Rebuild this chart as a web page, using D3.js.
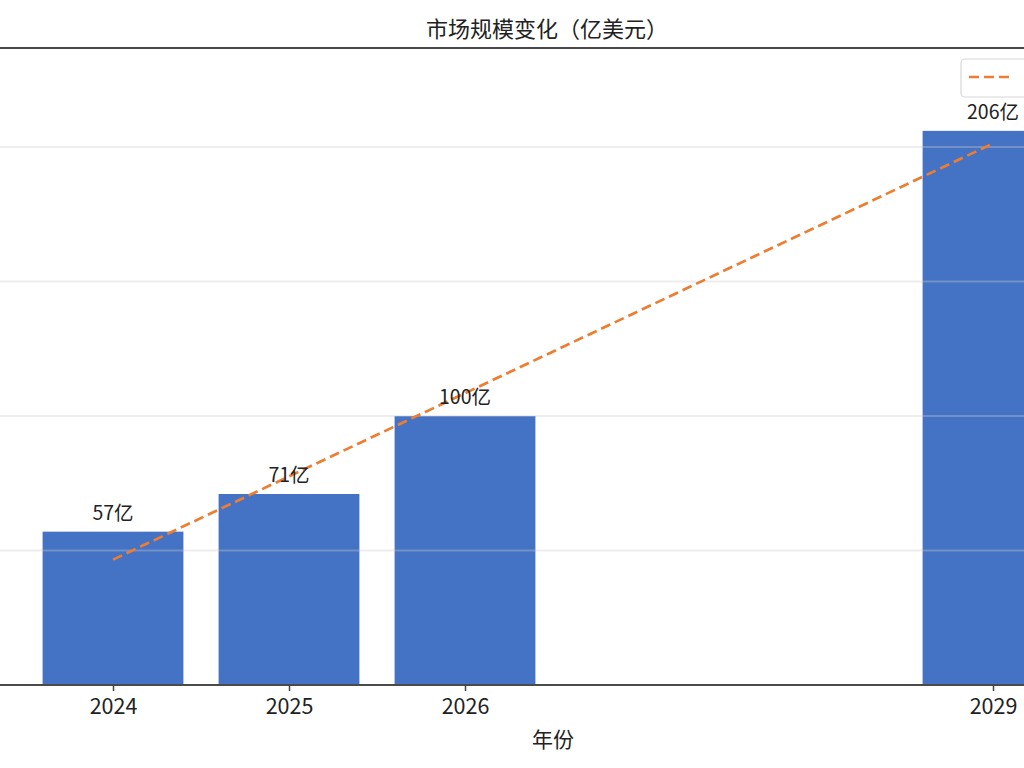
<!DOCTYPE html>
<html>
<head>
<meta charset="utf-8">
<script src="https://cdn.jsdelivr.net/npm/d3@7"></script>
<style>
  html, body { margin: 0; padding: 0; background: #fff; overflow: hidden; }
  svg { display: block; font-family: "Noto Sans CJK SC", "Noto Sans", sans-serif; }
</style>
</head>
<body>
<svg id="chart" width="1024" height="768"></svg>
<script>
const years = [2024, 2025, 2026, 2029];
const values = [57, 71, 100, 206];
const barLabels = ["57亿", "71亿", "100亿", "206亿"];
const trendYears = [2024, 2029];
const trendValues = [46.6, 201.3];
const gridTicks = [50, 100, 150, 200];
const titleText = "市场规模变化（亿美元）";
const xLabelText = "年份";

const svg = d3.select("#chart");
const W = 1024, H = 768;

const x = d3.scaleLinear().domain([2024, 2029]).range([113, 993]);
const y = d3.scaleLinear().domain([0, 236.8]).range([685, 48]);
const barW = x(2024.8) - x(2024);

const barColor = "#4472C4";
const lineColor = "#ED7D31";

// bars
svg.append("g").selectAll("rect").data(years).join("rect")
  .attr("x", (d) => x(d) - barW / 2)
  .attr("y", (d, i) => y(values[i]))
  .attr("width", barW)
  .attr("height", (d, i) => y(0) - y(values[i]))
  .attr("fill", barColor);

// gridlines (drawn faintly over bars)
svg.append("g").selectAll("line").data(gridTicks).join("line")
  .attr("x1", 0).attr("x2", W)
  .attr("y1", (d) => y(d)).attr("y2", (d) => y(d))
  .attr("stroke", "#cccccc").attr("stroke-opacity", 0.35).attr("stroke-width", 1.8);

// trend line
const line = d3.line().x((d) => x(d[0])).y((d) => y(d[1]));
svg.append("path")
  .datum(trendYears.map((yr, i) => [yr, trendValues[i]]))
  .attr("d", line)
  .attr("fill", "none")
  .attr("stroke", lineColor)
  .attr("stroke-width", 2.7)
  .attr("stroke-dasharray", "10,5");

// bar labels
svg.append("g").selectAll("text").data(years).join("text")
  .attr("x", (d) => x(d))
  .attr("y", (d, i) => y(values[i]) - 12)
  .attr("text-anchor", "middle")
  .attr("font-size", 19.5)
  .attr("fill", "#222")
  .text((d, i) => barLabels[i]);

// spines
svg.append("line").attr("x1", 0).attr("x2", W).attr("y1", y(236.8)).attr("y2", y(236.8))
  .attr("stroke", "#4a4a4a").attr("stroke-width", 2);
svg.append("line").attr("x1", 0).attr("x2", W).attr("y1", y(0)).attr("y2", y(0))
  .attr("stroke", "#4a4a4a").attr("stroke-width", 2);

// x axis ticks
const xAxis = d3.axisBottom(x).tickValues(years).tickFormat(d3.format("d")).tickSize(6).tickPadding(8);
const gx = svg.append("g").attr("transform", `translate(0,${y(0)})`).call(xAxis);
gx.select(".domain").remove();
gx.selectAll(".tick line").attr("stroke", "#444").attr("stroke-width", 1.5);
gx.selectAll(".tick text").attr("font-size", 21.5).attr("fill", "#222")
  .attr("font-family", "'Noto Sans CJK SC', sans-serif");

// axis label
svg.append("text").attr("x", 553).attr("y", 747).attr("text-anchor", "middle")
  .attr("font-size", 21).attr("fill", "#222").text(xLabelText);

// title
svg.append("text").attr("x", 547).attr("y", 37).attr("text-anchor", "middle")
  .attr("font-size", 22).attr("fill", "#222").text(titleText);

// legend (cropped at right edge)
const lg = svg.append("g");
lg.append("rect").attr("x", 961).attr("y", 59).attr("width", 120).attr("height", 38)
  .attr("rx", 4).attr("fill", "#fff").attr("fill-opacity", 0.85)
  .attr("stroke", "#d8d8d8").attr("stroke-width", 1.2);
lg.append("line").attr("x1", 969).attr("x2", 1013).attr("y1", 77).attr("y2", 77)
  .attr("stroke", lineColor).attr("stroke-width", 2.7).attr("stroke-dasharray", "10,5");
</script>
</body>
</html>
